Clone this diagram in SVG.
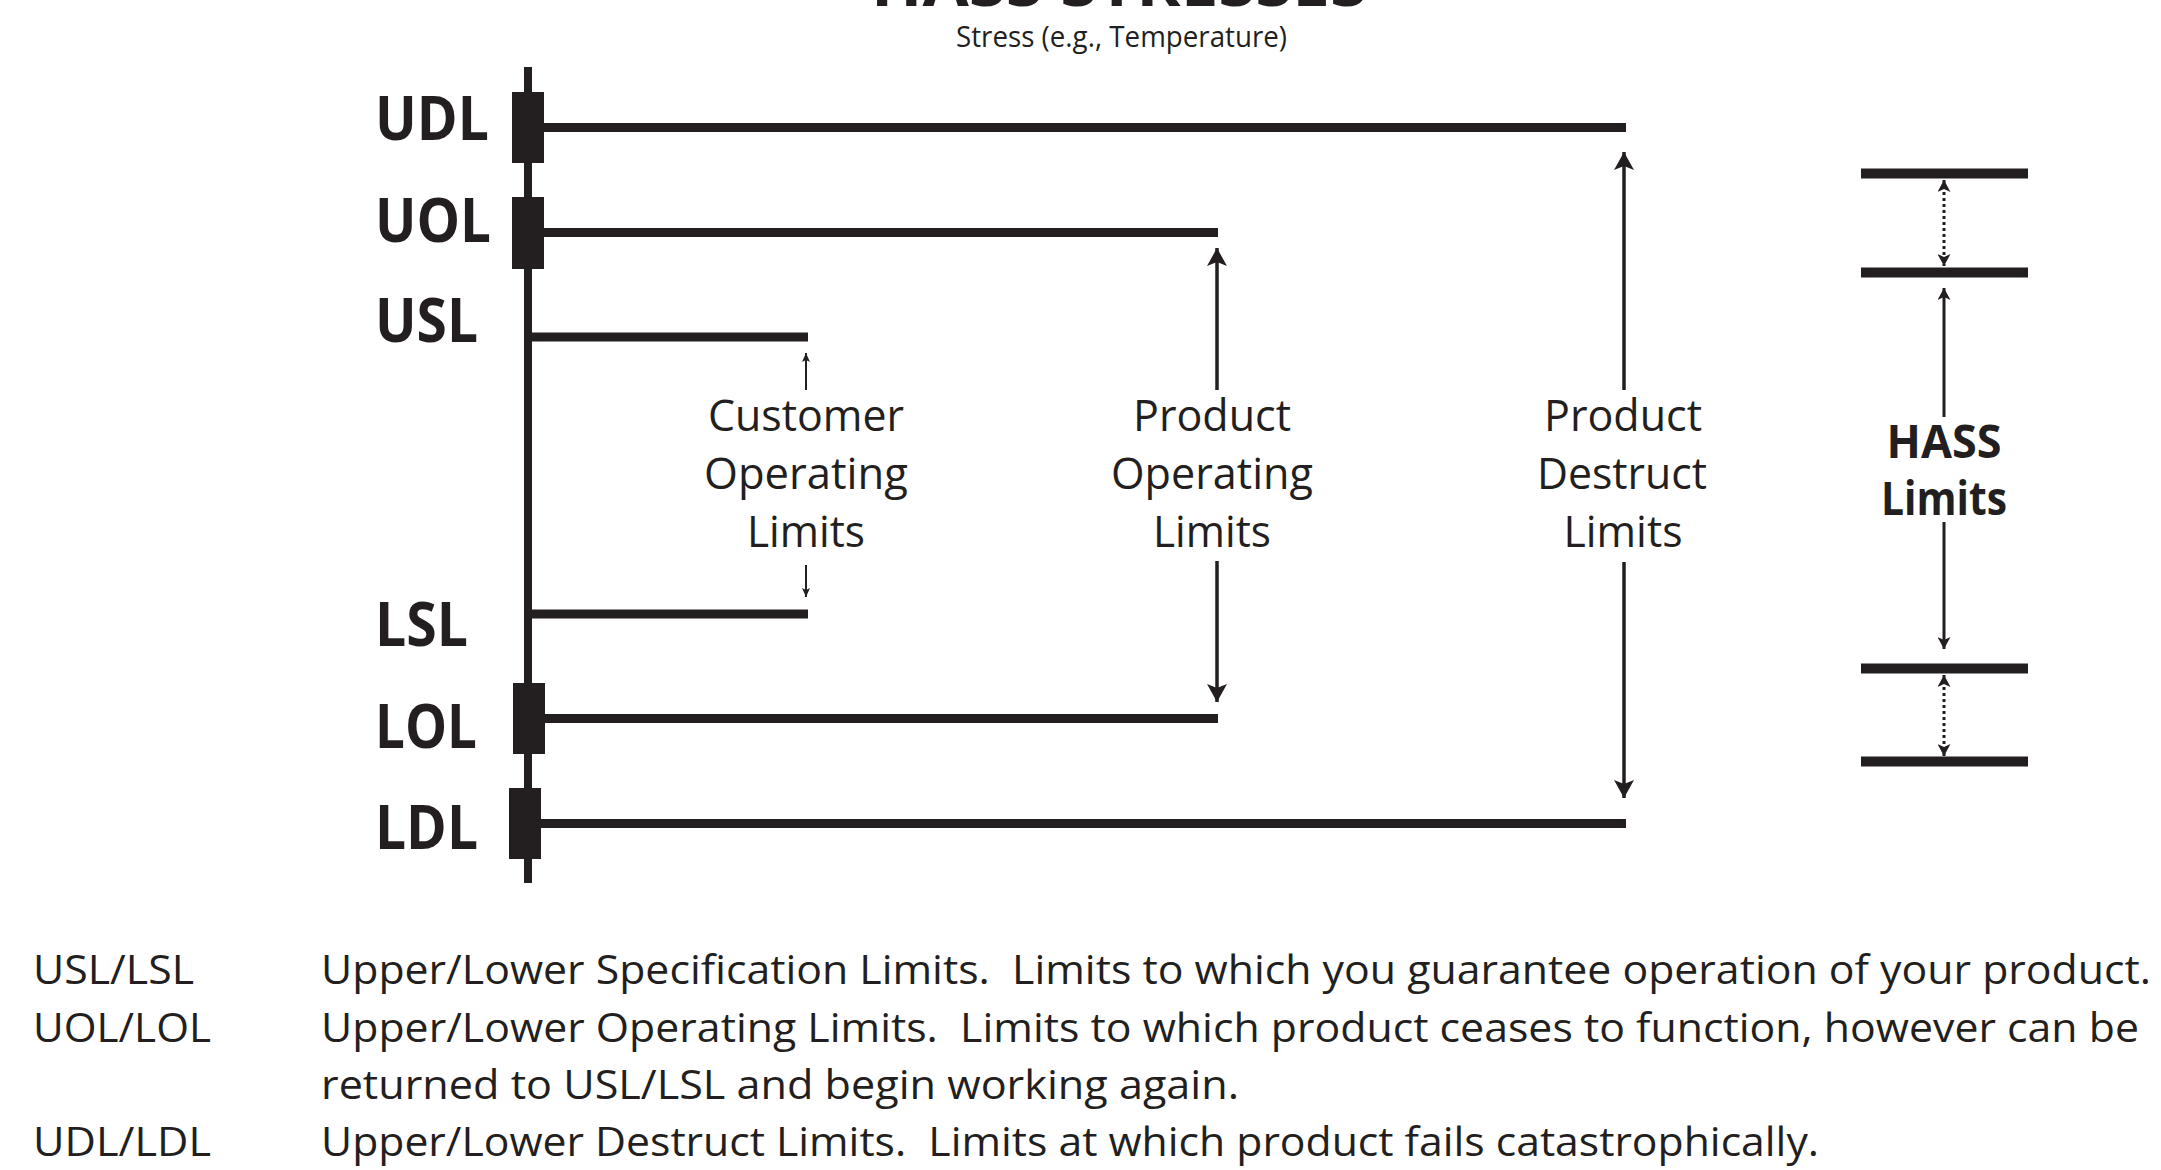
<svg xmlns="http://www.w3.org/2000/svg" width="2161" height="1170" viewBox="0 0 2161 1170">
<style>
  .lbl { font-family: "Open Sans", "Liberation Sans", sans-serif; font-weight: 700; font-size: 61px; fill: #231f20; }
  .mid { font-family: "Open Sans", "Liberation Sans", sans-serif; font-size: 43px; fill: #231f20; text-anchor: middle; }
  .hass { font-family: "Open Sans", "Liberation Sans", sans-serif; font-weight: 700; font-size: 46px; fill: #231f20; text-anchor: middle; }
  .leg { font-family: "Open Sans", "Liberation Sans", sans-serif; font-size: 41px; fill: #231f20; white-space: pre; }
  .ttl { font-family: "Open Sans", "Liberation Sans", sans-serif; font-size: 29px; fill: #231f20; }
  .big { font-family: "Open Sans", "Liberation Sans", sans-serif; font-weight: 700; font-size: 62px; fill: #231f20; }
  .hl { stroke: #231f20; stroke-width: 9; fill: none; }
  .box { fill: #231f20; }
  .bar { fill: #231f20; }
  .arr { stroke: #231f20; stroke-width: 3.5; fill: none; }
  .arrS { stroke: #231f20; stroke-width: 2; fill: none; }
  .arrH { stroke: #231f20; stroke-width: 3; fill: none; }
  .dot { stroke: #231f20; stroke-width: 3; fill: none; stroke-dasharray: 3 3; }
</style>
<defs>
  <marker id="ahBig" viewBox="0 0 18 20" refX="18" refY="10" markerWidth="18" markerHeight="20" markerUnits="userSpaceOnUse" orient="auto-start-reverse">
    <path d="M0,0 L18,10 L0,20 L4,10 z" fill="#231f20"/>
  </marker>
  <marker id="ahMed" viewBox="0 0 12 13" refX="12" refY="6.5" markerWidth="12" markerHeight="13" markerUnits="userSpaceOnUse" orient="auto-start-reverse">
    <path d="M0,0 L12,6.5 L0,13 L3,6.5 z" fill="#231f20"/>
  </marker>
  <marker id="ahSm" viewBox="0 0 9 8" refX="9" refY="4" markerWidth="9" markerHeight="8" markerUnits="userSpaceOnUse" orient="auto-start-reverse">
    <path d="M0,0 L9,4 L0,8 L2,4 z" fill="#231f20"/>
  </marker>
</defs>
<rect x="0" y="0" width="2161" height="1170" fill="#ffffff"/>

<g id="title">
  <text class="big" x="871" y="6" textLength="496" lengthAdjust="spacingAndGlyphs">HASS STRESSES</text>
  <text class="ttl" x="956" y="47" textLength="331" lengthAdjust="spacingAndGlyphs">Stress (e.g., Temperature)</text>
</g>

<g id="axis">
  <line x1="528" y1="67" x2="528" y2="883" stroke="#231f20" stroke-width="8"/>
</g>

<g id="UDL">
  <text class="lbl" x="375" y="140" textLength="114" lengthAdjust="spacingAndGlyphs">UDL</text>
  <rect class="box" x="512" y="92" width="32" height="71"/>
  <line class="hl" x1="540" y1="127.5" x2="1626" y2="127.5"/>
</g>
<g id="UOL">
  <text class="lbl" x="375" y="242" textLength="116" lengthAdjust="spacingAndGlyphs">UOL</text>
  <rect class="box" x="512" y="197" width="32" height="72"/>
  <line class="hl" x1="540" y1="232.5" x2="1218" y2="232.5"/>
</g>
<g id="USL">
  <text class="lbl" x="375" y="342" textLength="103" lengthAdjust="spacingAndGlyphs">USL</text>
  <line class="hl" x1="528" y1="337" x2="808" y2="337"/>
</g>
<g id="LSL">
  <text class="lbl" x="375" y="646" textLength="93" lengthAdjust="spacingAndGlyphs">LSL</text>
  <line class="hl" x1="528" y1="614" x2="808" y2="614"/>
</g>
<g id="LOL">
  <text class="lbl" x="375" y="748" textLength="102" lengthAdjust="spacingAndGlyphs">LOL</text>
  <rect class="box" x="513" y="683" width="32" height="71"/>
  <line class="hl" x1="540" y1="718.5" x2="1218" y2="718.5"/>
</g>
<g id="LDL">
  <text class="lbl" x="375" y="849" textLength="103" lengthAdjust="spacingAndGlyphs">LDL</text>
  <rect class="box" x="509" y="788" width="32" height="71"/>
  <line class="hl" x1="538" y1="823.5" x2="1626" y2="823.5"/>
</g>

<g id="customer-operating-limits">
  <text class="mid" x="806" y="431" textLength="196" lengthAdjust="spacingAndGlyphs">Customer</text>
  <text class="mid" x="806" y="489" textLength="204" lengthAdjust="spacingAndGlyphs">Operating</text>
  <text class="mid" x="806" y="547" textLength="118" lengthAdjust="spacingAndGlyphs">Limits</text>
</g>
<g id="product-operating-limits">
  <text class="mid" x="1212" y="431" textLength="158" lengthAdjust="spacingAndGlyphs">Product</text>
  <text class="mid" x="1212" y="489" textLength="202" lengthAdjust="spacingAndGlyphs">Operating</text>
  <text class="mid" x="1212" y="547" textLength="118" lengthAdjust="spacingAndGlyphs">Limits</text>
</g>
<g id="product-destruct-limits">
  <text class="mid" x="1623" y="431" textLength="158" lengthAdjust="spacingAndGlyphs">Product</text>
  <text class="mid" x="1622" y="489" textLength="170" lengthAdjust="spacingAndGlyphs">Destruct</text>
  <text class="mid" x="1623" y="547" textLength="119" lengthAdjust="spacingAndGlyphs">Limits</text>
</g>

<g id="hass-limits">
  <rect class="bar" x="1861" y="168.5" width="167" height="10"/>
  <rect class="bar" x="1861" y="267.5" width="167" height="10"/>
  <rect class="bar" x="1861" y="663.5" width="167" height="10"/>
  <rect class="bar" x="1861" y="756.5" width="167" height="10"/>
  <text class="hass" x="1944" y="458" textLength="115" lengthAdjust="spacingAndGlyphs">HASS</text>
  <text class="hass" x="1944" y="515" textLength="126" lengthAdjust="spacingAndGlyphs">Limits</text>
</g>

<g id="connectors">
  <line class="arrS" x1="806" y1="390" x2="806" y2="353" marker-end="url(#ahSm)"/>
  <line class="arrS" x1="806" y1="565" x2="806" y2="597" marker-end="url(#ahSm)"/>
  <line class="arr" x1="1217" y1="390" x2="1217" y2="248" marker-end="url(#ahBig)"/>
  <line class="arr" x1="1217" y1="561" x2="1217" y2="702" marker-end="url(#ahBig)"/>
  <line class="arr" x1="1624" y1="390" x2="1624" y2="152" marker-end="url(#ahBig)"/>
  <line class="arr" x1="1624" y1="562" x2="1624" y2="798" marker-end="url(#ahBig)"/>
  <line class="dot" x1="1944" y1="180" x2="1944" y2="266" marker-start="url(#ahMed)" marker-end="url(#ahMed)"/>
  <line class="arrH" x1="1944" y1="417" x2="1944" y2="288" marker-end="url(#ahMed)"/>
  <line class="arrH" x1="1944" y1="522" x2="1944" y2="649" marker-end="url(#ahMed)"/>
  <line class="dot" x1="1944" y1="675" x2="1944" y2="756" marker-start="url(#ahMed)" marker-end="url(#ahMed)"/>
</g>

<g id="legend">
  <text class="leg" x="33" y="984" textLength="161" lengthAdjust="spacingAndGlyphs">USL/LSL</text>
  <text class="leg" x="321" y="984" textLength="1830" lengthAdjust="spacingAndGlyphs">Upper/Lower Specification Limits.  Limits to which you guarantee operation of your product.</text>
  <text class="leg" x="33" y="1042" textLength="178" lengthAdjust="spacingAndGlyphs">UOL/LOL</text>
  <text class="leg" x="321" y="1042" textLength="1818" lengthAdjust="spacingAndGlyphs">Upper/Lower Operating Limits.  Limits to which product ceases to function, however can be</text>
  <text class="leg" x="321" y="1099" textLength="918" lengthAdjust="spacingAndGlyphs">returned to USL/LSL and begin working again.</text>
  <text class="leg" x="33" y="1156" textLength="178" lengthAdjust="spacingAndGlyphs">UDL/LDL</text>
  <text class="leg" x="321" y="1156" textLength="1498" lengthAdjust="spacingAndGlyphs">Upper/Lower Destruct Limits.  Limits at which product fails catastrophically.</text>
</g>
</svg>
